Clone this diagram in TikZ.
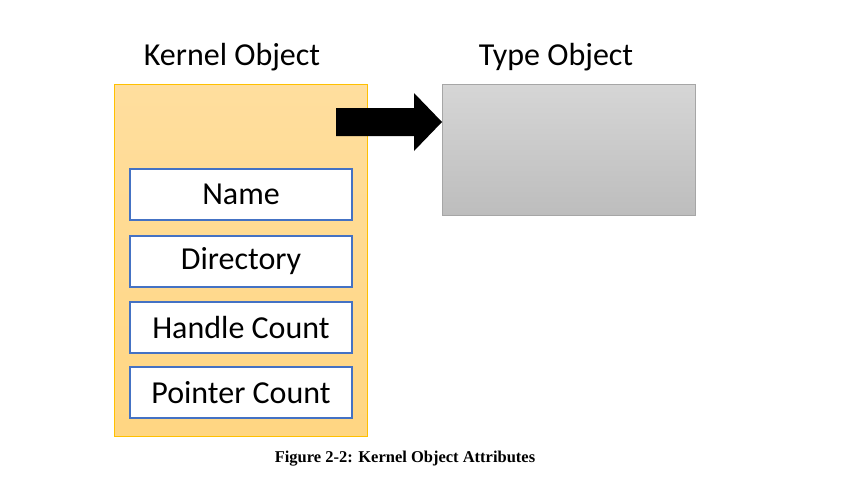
\documentclass[tikz,border=0pt]{standalone}
\usepackage{fontspec}
\setmainfont{Carlito}
\newfontfamily\capfont{Liberation Serif}
\usetikzlibrary{positioning}

\definecolor{kobjtop}{HTML}{FFDE9E}
\definecolor{kobjbot}{HTML}{FFD682}
\definecolor{kobjline}{HTML}{FFC000}
\definecolor{fieldline}{HTML}{4472C4}
\definecolor{typetop}{HTML}{D6D6D6}
\definecolor{typebot}{HTML}{BDBDBD}
\definecolor{typeline}{HTML}{A6A6A6}

\tikzset{
  objbox/.style={minimum width=253pt, inner sep=0pt, outer sep=0pt},
  field/.style={draw=fieldline, line width=1.6pt, fill=white, minimum width=222pt,
    minimum height=51pt, inner sep=0pt, font=\fontsize{32}{34}\selectfont},
  title/.style={font=\fontsize{32}{34}\selectfont, inner sep=0pt}
}

\begin{document}
\begin{tikzpicture}[x=1pt,y=-1pt]
        \useasboundingbox (0,0) rectangle (862,477);
        %\draw[step=50,gray,very thin] (0,0) grid (862,477);

        % Kernel Object
        \node[objbox, minimum height=352pt, top color=kobjtop, bottom color=kobjbot,
              draw=kobjline, line width=0.8pt] (kobj) at (240.5,260) {};
        \node[title] (ktitle) at (232,57) {Kernel Object};

        % fields
        \foreach \name/\y/\txt in {name/194.5/Name, dir/261.5/Directory,
                                   handles/327.5/Handle Count, pointers/392.5/Pointer Count}
            \node[field] (\name) at (241,\y) {\txt};

        % Type Object
        \node[objbox, minimum height=131pt, top color=typetop, bottom color=typebot,
              draw=typeline, line width=0.8pt] (tobj) at (568.5,149.5) {};
        \node[title] (ttitle) at (556,57) {Type Object};

        % Block arrow
        \coordinate (tip) at (tobj.west |- 0,122);
        \fill[black] (336,108) -- (414,108) -- (414,93) -- (tip) -- (414,151)
                     -- (414,136) -- (336,136) -- cycle;

        % Caption
        \node[font=\capfont\bfseries\fontsize{16.5}{18}\selectfont, inner sep=0pt] (caption)
              at (405,459) {Figure 2-2: Kernel Object Attributes};
\end{tikzpicture}
\end{document}
